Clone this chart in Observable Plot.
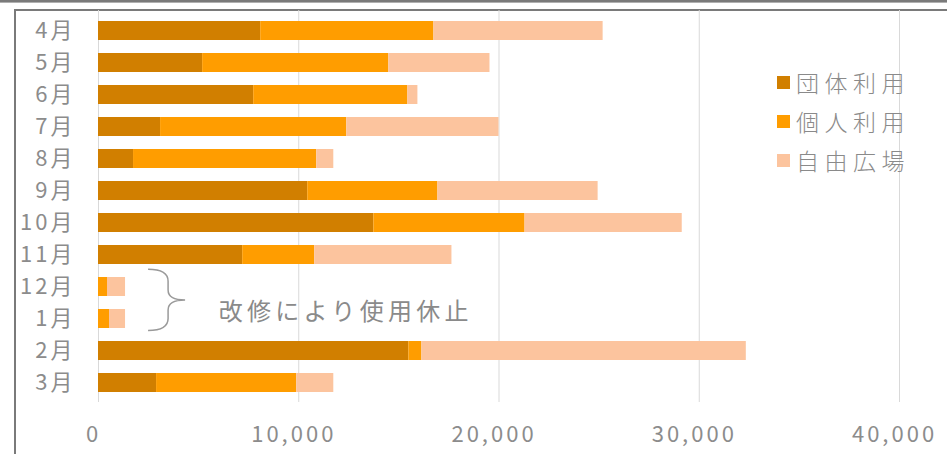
<!DOCTYPE html>
<html><head><meta charset="utf-8">
<script src="https://cdn.jsdelivr.net/npm/d3@7"></script>
<script src="https://cdn.jsdelivr.net/npm/@observablehq/plot@0.6"></script>
<style>
body{margin:0;background:#fff;}
#wrap{position:relative;width:947px;height:454px;overflow:hidden;font-family:"Noto Sans CJK JP","Noto Sans",sans-serif;background:#fff;}
#topline{position:absolute;left:0;top:0;width:947px;height:2px;border-bottom:1px solid #b0b0b0;background:#7a7a7a;}
#box{position:absolute;left:14px;top:9px;width:980px;height:500px;border:2px solid #7a7a7a;box-sizing:border-box;}
#chart{position:absolute;left:0;top:0;}
#legend{position:absolute;left:777px;top:63px;}
.row{display:flex;align-items:center;height:39px;}
.sw{width:13px;height:13px;margin-right:6px;}
.lab{font-size:23px;letter-spacing:5.5px;color:#8a8a8a;font-weight:300;line-height:1;}
#chart g[aria-label="x-axis tick label"] text{letter-spacing:3px;}
#chart g[aria-label="y-axis tick label"] text{letter-spacing:3px;}
#chart g[aria-label="text"] text{letter-spacing:4.3px;}
</style></head><body>
<div id="wrap"><div id="topline"></div><div id="box"></div><div id="chart"></div><div id="legend"></div></div>
<script>
const months = ["4月","5月","6月","7月","8月","9月","10月","11月","12月","1月","2月","3月"];
const series = ["団体利用","個人利用","自由広場"];
const dantai = [8100,5200,7750,3100,1750,10450,13750,7200,0,0,15500,2900];
const kojin  = [8650,9300,7700,9300,9150,6500,7550,3600,450,550,650,7000];
const jiyu   = [8450,5050,500,7600,850,8000,7850,6850,900,800,16200,1850];
const colors = ["#D17F00","#FF9D00","#FCC49E"];
const xTicks = [0,10000,20000,30000,40000];
const noteText = "改修により使用休止";
const noteFrom = "12月", noteTo = "1月";
const noteBraceX = [2500, 3500, 4350];
const noteTextX = 6000;

const valuesBySeries = [dantai, kojin, jiyu];
const rows = [];
months.forEach((m, i) => series.forEach((s, j) => rows.push({month: m, series: s, value: valuesBySeries[j][i]})));

const font = '"Noto Sans CJK JP","Noto Sans",sans-serif';

const brace = (index, scales) => {
  const x = scales.x, y = scales.y;
  const bw = y.bandwidth ? y.bandwidth() : 19;
  const step = y.step ? y.step() : 32.8;
  const gap = step - bw;
  const top = y(noteFrom) - gap * 0.6;
  const bot = y(noteTo) + bw + gap * 0.2;
  const mid = (top + bot) / 2;
  const xl = x(noteBraceX[0]), xm = x(noteBraceX[1]), xt = x(noteBraceX[2]);
  const d = `M${xl},${top} Q${xm},${top} ${xm},${top+12} L${xm},${mid-10} Q${xm},${mid} ${xt},${mid} Q${xm},${mid} ${xm},${mid+10} L${xm},${bot-12} Q${xm},${bot} ${xl},${bot}`;
  const g = d3.create("svg:g");
  g.append("path").attr("d", d).attr("fill", "none").attr("stroke", "#9a9a9a").attr("stroke-width", 1.5);
  return g.node();
};

const chart = Plot.plot({
  width: 947,
  height: 454,
  marginLeft: 98,
  marginRight: 48,
  marginTop: 10,
  marginBottom: 52,
  style: {fontFamily: font, background: "transparent", color: "#8a8a8a", overflow: "visible"},
  x: {domain: [0, 40000], axis: null, label: null},
  y: {domain: months, paddingInner: 0.42, paddingOuter: 0.19, axis: null, label: null},
  color: {domain: series, range: colors},
  marks: [
    Plot.gridX(xTicks, {stroke: "#d9d9d9", strokeOpacity: 1, strokeWidth: 1}),
    Plot.barX(rows, {y: "month", x: "value", fill: "series", order: series}),
    Plot.axisX({ticks: xTicks, tickFormat: d3.format(","), tickSize: 0, tickPadding: 24, fontSize: 22, dx: -5, fill: "#8c8c8c", label: null}),
    Plot.axisY({tickSize: 0, tickPadding: 23, fontSize: 22, fill: "#8c8c8c", label: null}),
    brace,
    Plot.text([noteText], {x: () => noteTextX, y: () => noteFrom, text: d => d, dy: 25, textAnchor: "start", fontSize: 24, fill: "#8a8a8a"})
  ]
});
document.getElementById("chart").appendChild(chart);

const legend = document.getElementById("legend");
series.forEach((s, i) => {
  const row = document.createElement("div");
  row.className = "row";
  const sw = document.createElement("div");
  sw.className = "sw";
  sw.style.background = colors[i];
  const lab = document.createElement("div");
  lab.className = "lab";
  lab.textContent = s;
  row.appendChild(sw); row.appendChild(lab);
  legend.appendChild(row);
});
</script>
</body></html>
